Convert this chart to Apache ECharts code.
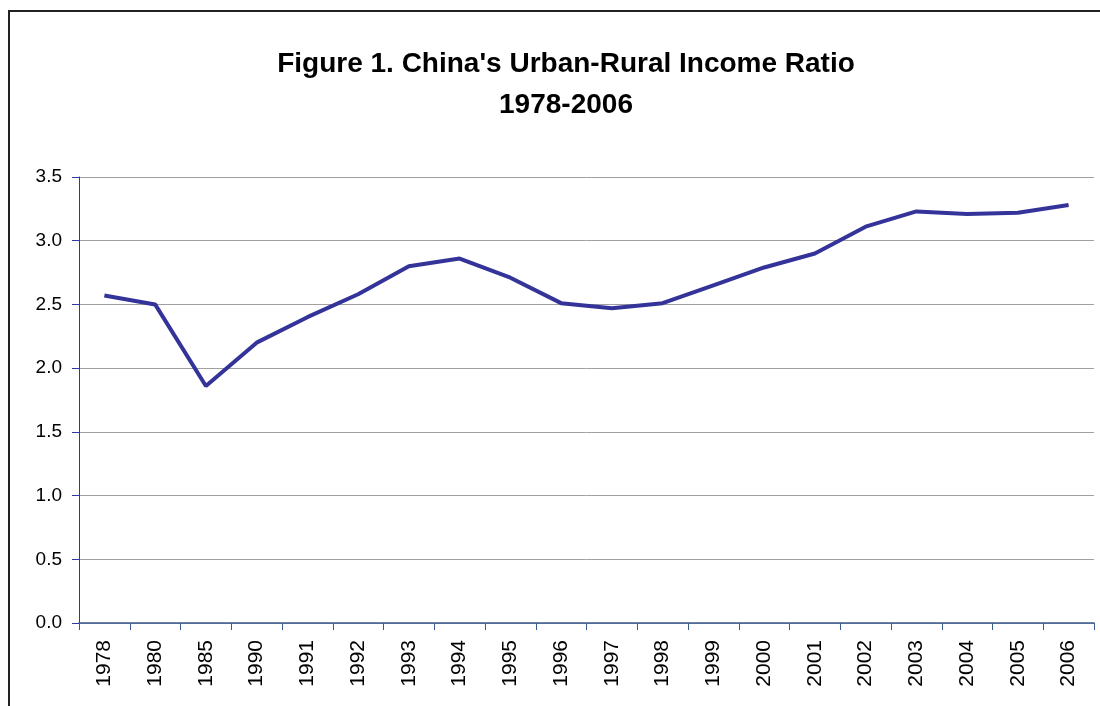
<!DOCTYPE html>
<html>
<head>
<meta charset="utf-8">
<script src="https://cdn.jsdelivr.net/npm/echarts@6/dist/echarts.min.js"></script>
<style>
  html, body { margin: 0; padding: 0; background: #fff; }
  #chart { width: 1100px; height: 706px; }
</style>
</head>
<body>
<div id="chart"></div>
<script>
  const years = ['1978', '1980', '1985', '1990', '1991', '1992', '1993', '1994', '1995', '1996',
    '1997', '1998', '1999', '2000', '2001', '2002', '2003', '2004', '2005', '2006'];
  const ratio = [2.57, 2.50, 1.86, 2.20, 2.40, 2.58, 2.80, 2.86, 2.71, 2.51,
    2.47, 2.51, 2.65, 2.79, 2.90, 3.11, 3.23, 3.21, 3.22, 3.28];

  const myChart = echarts.init(document.getElementById('chart'));
  myChart.setOption({
    backgroundColor: '#fff',
    animation: false,
    graphic: [
      {
        type: 'rect',
        shape: { x: 9, y: 11, width: 1200, height: 800 },
        style: { fill: 'none', stroke: '#222', lineWidth: 2 },
        silent: true
      }
    ],
    title: {
      text: "Figure 1. China's Urban-Rural Income Ratio\n1978-2006",
      left: 561,
      top: 39,
      textAlign: 'center',
      textStyle: {
        fontFamily: 'Liberation Sans, Arial, sans-serif',
        fontSize: 28,
        fontWeight: 'bold',
        color: '#000',
        lineHeight: 41
      }
    },
    grid: { left: 79, right: 6, top: 177, bottom: 83, containLabel: false },
    xAxis: {
      type: 'category',
      data: years,
      boundaryGap: true,
      axisLine: { lineStyle: { color: '#3b5b8c', width: 1.5 } },
      axisTick: { show: true, length: 7, lineStyle: { color: '#3b5b8c' } },
      axisLabel: {
        rotate: 90,
        interval: 0,
        margin: 17,
        color: '#000',
        fontSize: 21,
        fontFamily: 'Liberation Sans, Arial, sans-serif'
      },
      splitLine: { show: false }
    },
    yAxis: {
      type: 'value',
      min: 0,
      max: 3.5,
      interval: 0.5,
      axisLine: { show: true, lineStyle: { color: '#3333aa', width: 1 } },
      axisTick: { show: true, inside: false, length: 7, lineStyle: { color: '#3333aa' } },
      axisLabel: {
        formatter: v => v.toFixed(1),
        color: '#000',
        fontSize: 19,
        margin: 17,
        fontFamily: 'Liberation Sans, Arial, sans-serif'
      },
      splitLine: { show: true, lineStyle: { color: '#a0a0a0', width: 1 } }
    },
    series: [
      {
        type: 'line',
        data: ratio,
        symbol: 'none',
        lineStyle: { color: '#333399', width: 4 },
        itemStyle: { color: '#333399' }
      }
    ]
  });
</script>
</body>
</html>
